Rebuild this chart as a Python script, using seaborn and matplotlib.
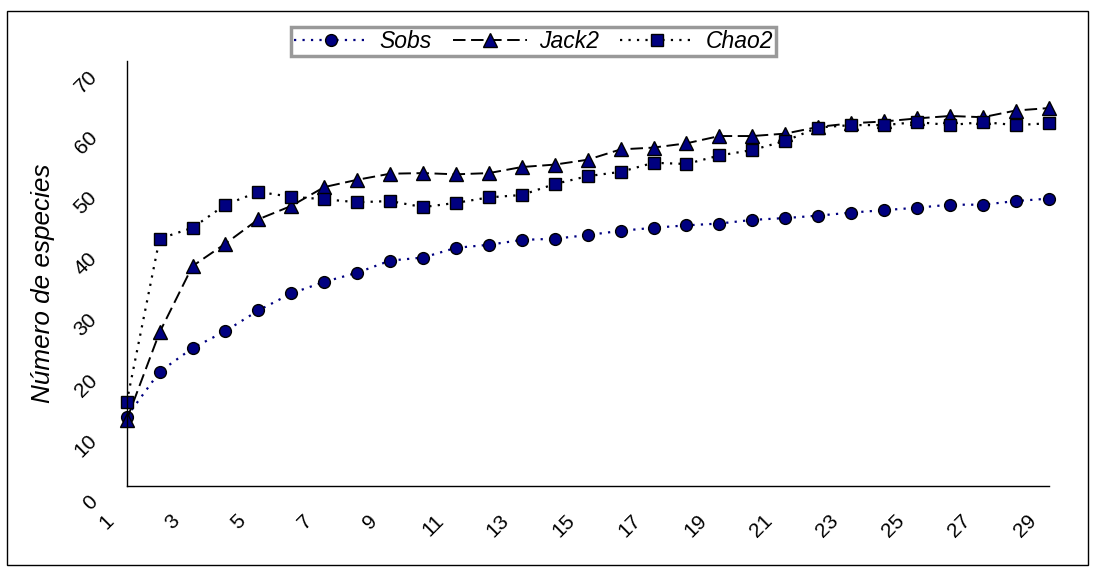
import matplotlib
matplotlib.use("Agg")
import matplotlib.pyplot as plt
import seaborn as sns
from matplotlib.patches import Rectangle
from matplotlib.transforms import ScaledTranslation

# muestras acumuladas
muestras = list(range(1, 30))

sobs = [11.4, 18.8, 22.7, 25.5, 28.9, 31.7, 33.6, 35.1, 37.1, 37.6,
        39.2, 39.7, 40.5, 40.7, 41.3, 42.0, 42.5, 42.9, 43.2, 43.8,
        44.1, 44.5, 45.0, 45.4, 45.8, 46.3, 46.3, 46.9, 47.3]
jack2 = [10.9, 25.3, 36.2, 39.9, 43.9, 46.1, 49.2, 50.4, 51.4, 51.5,
         51.3, 51.5, 52.5, 52.9, 53.7, 55.4, 55.7, 56.4, 57.6, 57.6,
         58.0, 59.1, 59.7, 60.0, 60.5, 60.9, 60.7, 61.8, 62.2]
chao2 = [13.8, 40.7, 42.5, 46.3, 48.4, 47.6, 47.2, 46.7, 46.9, 45.9,
         46.6, 47.5, 47.9, 49.7, 51.0, 51.7, 53.2, 53.0, 54.4, 55.3,
         56.8, 59.0, 59.4, 59.4, 59.9, 59.4, 59.9, 59.4, 59.7]

x_labels = [str(v) for v in range(1, 30, 2)]
y_ticks = list(range(0, 71, 10))

sns.set_style("white")
plt.rcParams["font.family"] = ["Liberation Sans", "DejaVu Sans"]
plt.rcParams["lines.scale_dashes"] = False
plt.rcParams["text.color"] = "black"
plt.rcParams["axes.labelcolor"] = "black"

fig = plt.figure(figsize=(10.96, 5.74), dpi=100)
ax = fig.add_axes([126.7 / 1096, 88 / 574, 922 / 1096, 425.3 / 574])

navy = "#000080"
sns.lineplot(x=muestras, y=sobs, ax=ax, errorbar=None, color=navy, lw=1.6,
             linestyle=(0, (1.6, 4.5)), marker="o", markersize=8.5,
             markerfacecolor=navy, markeredgecolor="black", markeredgewidth=1,
             label="Sobs", clip_on=False)
sns.lineplot(x=muestras, y=jack2, ax=ax, errorbar=None, color="black", lw=1.4,
             linestyle=(0, (9, 4)), marker="^", markersize=10,
             markerfacecolor=navy, markeredgecolor="black", markeredgewidth=1,
             label="Jack2", clip_on=False)
sns.lineplot(x=muestras, y=chao2, ax=ax, errorbar=None, color="black", lw=1.6,
             linestyle=(0, (1.6, 4.5)), marker="s", markersize=8,
             markerfacecolor=navy, markeredgecolor="black", markeredgewidth=1,
             label="Chao2", clip_on=False)

ax.set_xlim(1, 29)
ax.set_ylim(0, 70)
ax.set_xticks(range(1, 30, 2))
ax.set_xticks(range(2, 30, 2), minor=True)
ax.set_xticklabels(x_labels)
ax.set_yticks(y_ticks)
ax.set_yticklabels([str(v) for v in y_ticks])
ax.set_xlabel("")

for s in ["top", "right"]:
    ax.spines[s].set_visible(False)
for s in ["left", "bottom"]:
    ax.spines[s].set_color("black")
    ax.spines[s].set_linewidth(1)

ax.tick_params(axis="both", which="both", direction="inout", length=8.6,
               width=0.8, color="#333333", labelsize=15, labelcolor="black")
ax.tick_params(axis="x", which="major", pad=18.7)
ax.tick_params(axis="y", which="major", pad=19.1)

for lab in ax.get_xticklabels():
    lab.set_rotation(45)
    lab.set_rotation_mode("anchor")
    lab.set_ha("right")
    lab.set_va("center")
    lab.set_transform(lab.get_transform() + ScaledTranslation(-0.155, 0, fig.dpi_scale_trans))
for lab in ax.get_yticklabels():
    lab.set_rotation(45)
    lab.set_rotation_mode("anchor")
    lab.set_ha("right")
    lab.set_va("center")
    lab.set_transform(lab.get_transform() + ScaledTranslation(0, -0.128, fig.dpi_scale_trans))

ax.set_ylabel("Número de especies", fontsize=18.8, style="italic", color="black")
ax.yaxis.label.set_va("center")
ax.yaxis.set_label_coords(-0.0908, 0.477)

handles, labels = ax.get_legend_handles_labels()
leg = ax.legend(handles, labels, ncol=3, loc="upper left",
                bbox_to_anchor=(291 / 1096, 1 - 27 / 574),
                bbox_transform=fig.transFigure, frameon=True, fancybox=False,
                prop={"size": 16.5, "style": "italic"}, handlelength=3.23,
                handletextpad=0.52, columnspacing=0.92, borderpad=0.12,
                borderaxespad=0, labelcolor="black")
leg.get_frame().set_edgecolor("#808080")
leg.get_frame().set_linewidth(2.5)
leg.get_frame().set_facecolor("white")

fig.patches.append(Rectangle((7 / 1096, 1 - 565 / 574), 1081 / 1096, 554 / 574,
                             transform=fig.transFigure, fill=False,
                             edgecolor="black", lw=1))

fig.savefig("out.png", dpi=100)
